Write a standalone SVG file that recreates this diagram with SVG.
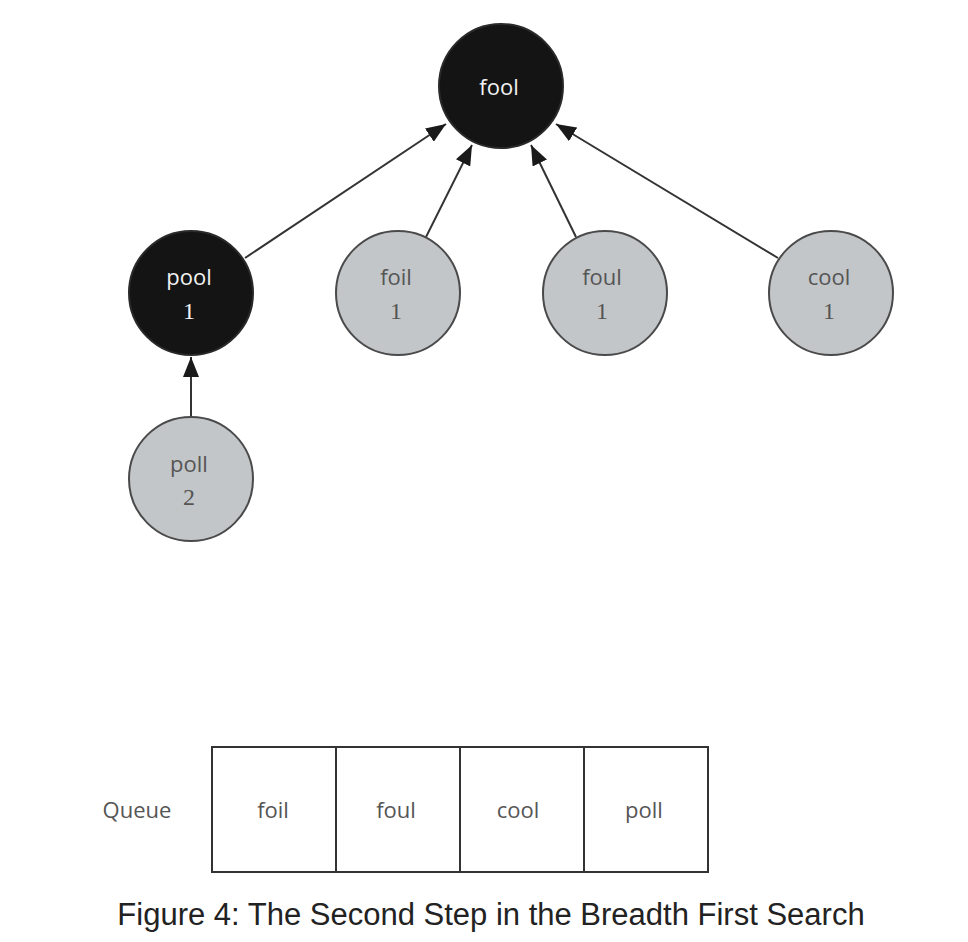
<svg xmlns="http://www.w3.org/2000/svg" width="968" height="942" viewBox="0 0 968 942">
<defs>
<marker id="ah2" viewBox="0 0 20 16" refX="20" refY="8" markerWidth="20" markerHeight="16" markerUnits="userSpaceOnUse" orient="auto">
<path d="M0,0 L20,8 L0,16 z" fill="#1a1a1a"/>
</marker>
</defs>
<style>
.black{fill:#141414;stroke:#2a2a2a;stroke-width:2}
.gray{fill:#c3c6c8;stroke:#4a4a4a;stroke-width:2}
.lw{font-family:"Open Sans","DejaVu Sans",sans-serif;font-size:22px;text-anchor:middle;fill:#f2f2f2}
.lg{font-family:"Open Sans","DejaVu Sans",sans-serif;font-size:22px;text-anchor:middle;fill:#555}
.nw{font-family:"Liberation Serif",serif;font-size:24px;text-anchor:middle;fill:#f2f2f2}
.ng{font-family:"Liberation Serif",serif;font-size:24px;text-anchor:middle;fill:#555}
.edge{stroke:#333;stroke-width:2;fill:none;marker-end:url(#ah2)}
.cell{fill:#fff;stroke:#333;stroke-width:2}
.q{font-family:"Open Sans","DejaVu Sans",sans-serif;font-size:22px;text-anchor:middle;fill:#555}
.cap{font-family:"Liberation Sans",Arial,sans-serif;font-size:31px;text-anchor:middle;fill:#222}
</style>
<rect width="968" height="942" fill="#ffffff"/>
<g id="connectors">
<line class="edge" x1="245" y1="258" x2="446" y2="124"/>
<line class="edge" x1="426" y1="237" x2="472" y2="145"/>
<line class="edge" x1="576" y1="237" x2="531" y2="145"/>
<line class="edge" x1="778" y1="258" x2="556" y2="124"/>
<line class="edge" x1="191" y1="417" x2="191" y2="357"/>
</g>
<g id="node-fool">
<circle class="black" cx="501" cy="86" r="62"/>
<text class="lw" x="499" y="95">fool</text>
</g>
<g id="node-pool">
<circle class="black" cx="191" cy="293" r="62"/>
<text class="lw" x="189" y="285">pool</text>
<text class="nw" x="189" y="319">1</text>
</g>
<g id="node-foil">
<circle class="gray" cx="398" cy="293" r="62"/>
<text class="lg" x="396" y="285">foil</text>
<text class="ng" x="396" y="319">1</text>
</g>
<g id="node-foul">
<circle class="gray" cx="605" cy="293" r="62"/>
<text class="lg" x="602" y="285">foul</text>
<text class="ng" x="602" y="319">1</text>
</g>
<g id="node-cool">
<circle class="gray" cx="831" cy="293" r="62"/>
<text class="lg" x="829" y="285">cool</text>
<text class="ng" x="829" y="319">1</text>
</g>
<g id="node-poll">
<circle class="gray" cx="191" cy="479" r="62"/>
<text class="lg" x="189" y="472">poll</text>
<text class="ng" x="189" y="505">2</text>
</g>
<g id="queue">
<text class="q" x="137" y="818">Queue</text>
<rect class="cell" x="212" y="747" width="124" height="125"/>
<rect class="cell" x="336" y="747" width="124" height="125"/>
<rect class="cell" x="460" y="747" width="124" height="125"/>
<rect class="cell" x="584" y="747" width="124" height="125"/>
<text class="q" x="273" y="818">foil</text>
<text class="q" x="396" y="818">foul</text>
<text class="q" x="518" y="818">cool</text>
<text class="q" x="644" y="818">poll</text>
</g>
<text class="cap" x="491" y="925">Figure 4: The Second Step in the Breadth First Search</text>
</svg>
